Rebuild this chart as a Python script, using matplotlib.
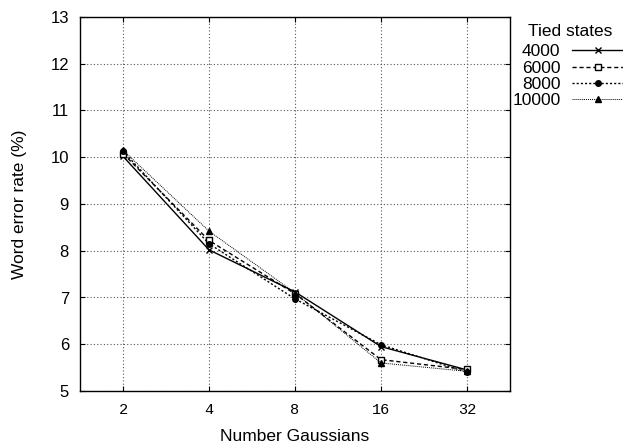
import matplotlib
matplotlib.use("Agg")
import matplotlib.pyplot as plt

gaussians = ["2", "4", "8", "16", "32"]
series_labels = ["4000", "6000", "8000", "10000"]
wer_4000 = [10.02, 8.02, 7.12, 5.95, 5.45]
wer_6000 = [10.08, 8.22, 7.08, 5.67, 5.46]
wer_8000 = [10.13, 8.15, 6.97, 5.99, 5.40]
wer_10000 = [10.15, 8.42, 7.10, 5.60, 5.42]
yticks = [5, 6, 7, 8, 9, 10, 11, 12, 13]

plt.rcParams['font.family'] = ['Liberation Sans', 'DejaVu Sans']
fig = plt.figure(figsize=(6.23, 4.48), dpi=100)
L, R, T, B = 80, 510, 17, 391
ax = fig.add_axes([L/623, 1-B/448, (R-L)/623, (B-T)/448])

x = list(range(len(gaussians)))
styles = [
    dict(ls='-', marker='x', mfc='black', ms=4, mew=1.0),
    dict(ls=(0, (3, 2)), marker='s', mfc='white', ms=4, mew=1.0),
    dict(ls=(0, (1.5, 1.5)), marker='o', mfc='black', ms=4, mew=1.0),
    dict(ls=(0, (1, 1)), marker='^', mfc='black', ms=4.5, mew=1.0, lw=0.7),
]
for vals, lab, st in zip([wer_4000, wer_6000, wer_8000, wer_10000], series_labels, styles):
    kw = dict(color='black', lw=1.0, mec='black')
    kw.update(st)
    ax.plot(x, vals, label=lab, **kw)

ax.set_xlim(-0.5, 4.5)
ax.set_ylim(5, 13)
ax.set_xticks(x)
ax.set_xticklabels(gaussians, family=['Liberation Mono', 'DejaVu Sans Mono'], fontsize=11)
ax.set_yticks(yticks)
ax.grid(True, color='#555555', ls=(0, (1, 2)), lw=0.8)
ax.tick_params(direction='in', top=True, right=True, length=3.6)
ax.tick_params(axis='y', labelsize=12, pad=8)
ax.tick_params(axis='x', pad=9)
for s in ax.spines.values():
    s.set_linewidth(1.0)
ax.set_xlabel("Number Gaussians", fontsize=12.5, labelpad=8)
ax.set_ylabel("Word error rate (%)", fontsize=12.5, labelpad=17)

fig.text(570/623, 1-31/448, "Tied states", fontsize=12.5, ha='center', va='center')
leg = fig.legend(loc='upper left', bbox_to_anchor=(500/623, 1-32/448),
                 frameon=False, markerfirst=False,
                 fontsize=12.5, handlelength=2.9,
                 handletextpad=0.69, labelspacing=0.07, borderpad=0.2)
for t in leg.get_texts():
    t.set_ha('right')

fig.savefig("out.png", dpi=100)
